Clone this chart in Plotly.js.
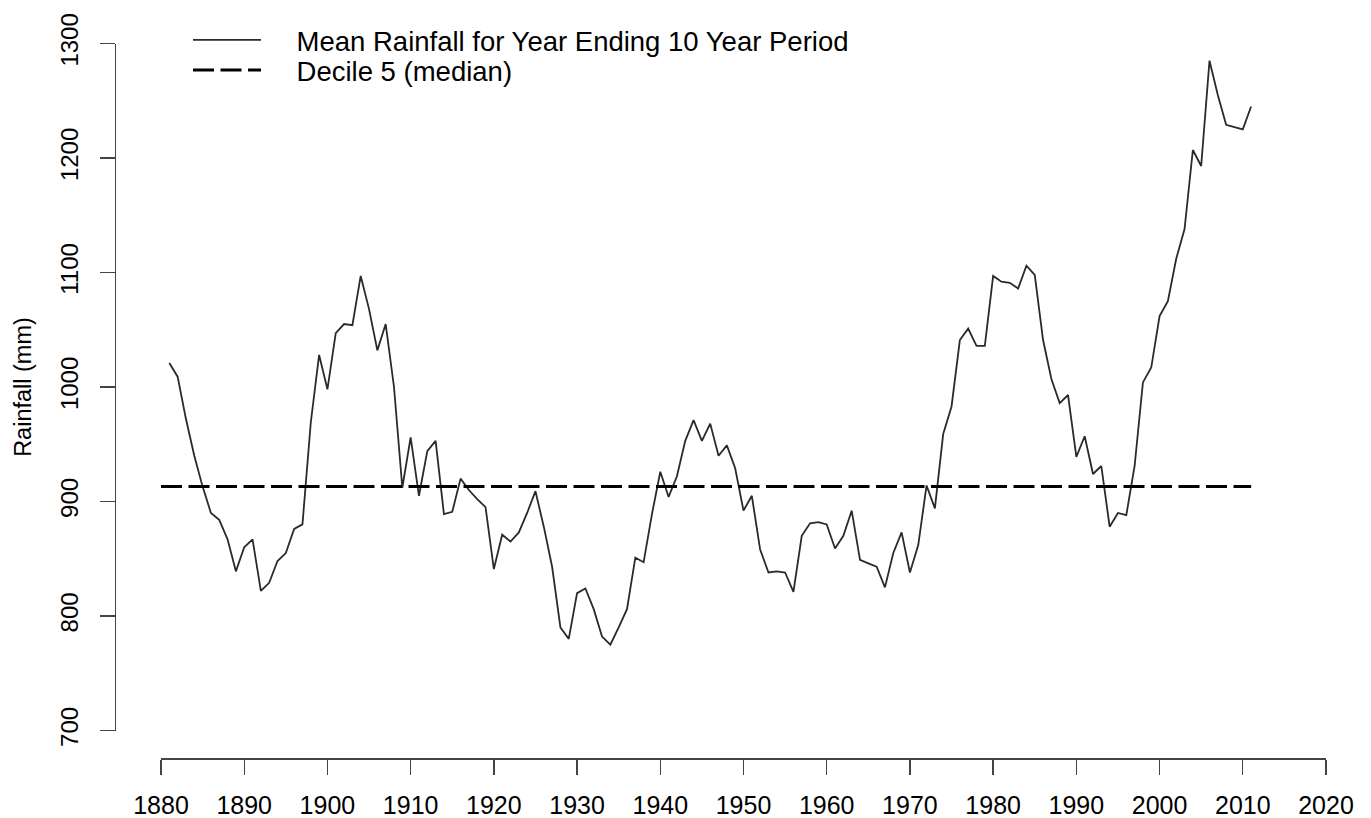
<!DOCTYPE html>
<html>
<head>
<meta charset="utf-8">
<script src="https://cdn.plot.ly/plotly-3.0.1.min.js"></script>
<style>html,body{margin:0;padding:0;background:#fff;}#chart{width:1371px;height:818px;}</style>
</head>
<body>
<div id="chart"></div>
<script>
const years = [1881,1882,1883,1884,1885,1886,1887,1888,1889,1890,
1891,1892,1893,1894,1895,1896,1897,1898,1899,1900,
1901,1902,1903,1904,1905,1906,1907,1908,1909,1910,
1911,1912,1913,1914,1915,1916,1917,1918,1919,1920,
1921,1922,1923,1924,1925,1926,1927,1928,1929,1930,
1931,1932,1933,1934,1935,1936,1937,1938,1939,1940,
1941,1942,1943,1944,1945,1946,1947,1948,1949,1950,
1951,1952,1953,1954,1955,1956,1957,1958,1959,1960,
1961,1962,1963,1964,1965,1966,1967,1968,1969,1970,
1971,1972,1973,1974,1975,1976,1977,1978,1979,1980,
1981,1982,1983,1984,1985,1986,1987,1988,1989,1990,
1991,1992,1993,1994,1995,1996,1997,1998,1999,2000,
2001,2002,2003,2004,2005,2006,2007,2008,2009,2010,2011];
const meanRainfall = [1021,1009,972,940,913,890,884,867,839,860,
867,822,829,848,855,876,880,969,1028,998,
1047,1055,1054,1097,1068,1032,1055,1000,912,956,
905,944,953,889,891,920,910,902,895,841,
871,865,873,890,909,878,843,790,780,820,
824,806,782,775,790,806,851,847,889,926,
904,922,953,971,953,968,940,949,929,892,
905,858,838,839,838,821,870,881,882,880,
859,870,892,849,846,843,825,855,873,838,
862,914,894,959,983,1041,1051,1036,1036,1097,
1092,1091,1086,1106,1098,1041,1007,986,993,939,
957,924,931,878,890,888,931,1004,1017,1062,
1075,1112,1138,1207,1193,1285,1255,1229,1227,1225,1245];
const medianYears = [1880, 2011];
const medianValue = [913, 913];
const xTicks = [1880,1890,1900,1910,1920,1930,1940,1950,1960,1970,1980,1990,2000,2010,2020];
const yTicks = [700,800,900,1000,1100,1200,1300];
const seriesNames = ["Mean Rainfall for Year Ending 10 Year Period", "Decile 5 (median)"];

const W = 1371, H = 818;
const mL = 100, mR = 30, mT = 10, mB = 40;
const pw = W - mL - mR, ph = H - mT - mB;
const px = v => (v - mL) / pw;
const py = v => (H - mB - v) / ph;

const FONT = "Liberation Sans, Arial, sans-serif";
const GAP = "\u00a0\u00a0\u00a0\u00a0";

const traces = [
  {x: years, y: meanRainfall, type: 'scatter', mode: 'lines', name: GAP + seriesNames[0],
   legend: 'legend', line: {color: '#2a2a2a', width: 1.8}},
  {x: medianYears, y: medianValue, type: 'scatter', mode: 'lines', name: GAP + seriesNames[1],
   legend: 'legend2', line: {color: '#000000', width: 3, dash: '21px,6.5px'}}
];

const legendBase = {xanchor: 'left', yanchor: 'middle', bgcolor: 'rgba(0,0,0,0)',
  font: {family: FONT, size: 27.5, color: '#000'}, itemwidth: 68, borderwidth: 0};

const layout = {
  width: W, height: H,
  margin: {l: mL, r: mR, t: mT, b: mB, autoexpand: false},
  paper_bgcolor: '#ffffff', plot_bgcolor: '#ffffff',
  font: {family: FONT, color: '#000', size: 24},
  showlegend: true,
  legend: Object.assign({}, legendBase, {x: px(188), y: py(40)}),
  legend2: Object.assign({}, legendBase, {x: px(188), y: py(70)}),
  xaxis: {
    domain: [px(161), px(1326)], range: [1880, 2020],
    anchor: 'free', position: py(758.3), automargin: false,
    tickvals: xTicks, ticktext: xTicks.map(String), tickangle: 0,
    ticks: 'outside', ticklen: 15, tickwidth: 1.3, tickcolor: '#444',
    showline: true, linecolor: '#444', linewidth: 1.3,
    showgrid: false, zeroline: false,
    tickfont: {family: FONT, size: 25, color: '#000'},
    ticklabelstandoff: 9
  },
  yaxis: {
    domain: [py(730.5), py(43.5)], range: [700, 1300],
    anchor: 'free', position: px(114.5), automargin: false,
    tickvals: yTicks, ticktext: yTicks.map(String),
    ticks: 'outside', ticklen: 15, tickwidth: 1.3, tickcolor: '#444',
    showline: true, linecolor: '#444', linewidth: 1.3,
    showgrid: false, zeroline: false, tickangle: -90,
    tickfont: {family: FONT, size: 24, color: '#000'},
    ticklabelstandoff: 12,
    title: {text: 'Rainfall (mm)', font: {family: FONT, size: 23.5, color: '#000'}, standoff: 16}
  }
};

Plotly.newPlot('chart', traces, layout, {displayModeBar: false, staticPlot: true});
</script>
</body>
</html>
